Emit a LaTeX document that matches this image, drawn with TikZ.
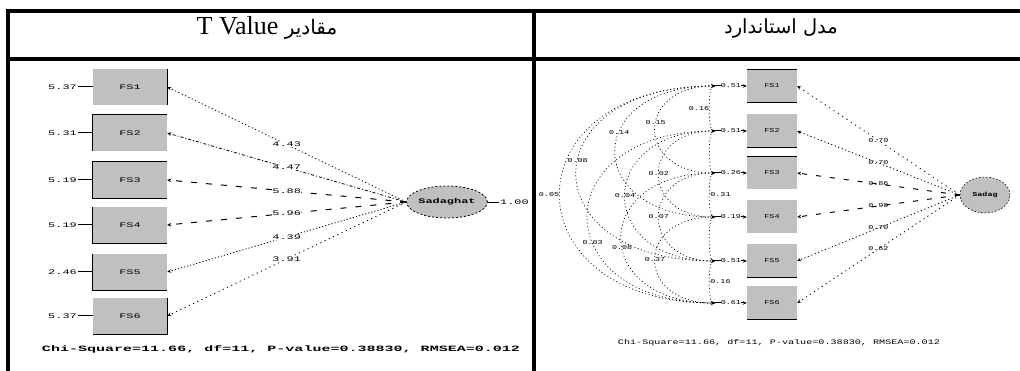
\documentclass[tikz,border=0pt]{standalone}
\usepackage{fontspec}
\usepackage{graphicx}
\setmainfont{Liberation Serif}
\newfontfamily\fa[Script=Arabic]{DejaVu Sans}
\newfontfamily\lis{Liberation Mono}
\usetikzlibrary{arrows.meta,shapes.geometric}
\TeXXeTstate=1
\definecolor{boxgray}{RGB}{192,192,192}
\newcommand\lsl[1]{\scalebox{1.7}[1]{#1}}
\newcommand\lsr[1]{\scalebox{1.4}[1]{#1}}
\begin{document}
\begin{tikzpicture}[x=1pt,y=-1pt,
  frame/.style={line width=3.5pt},
  obsL/.style={rectangle,fill=boxgray,minimum width=74pt,minimum height=36pt,inner sep=0pt,font=\lis\fontsize{7}{7}\selectfont},
  obsR/.style={rectangle,fill=boxgray,minimum width=50pt,minimum height=33pt,inner sep=0pt,font=\lis\fontsize{6}{6}\selectfont},
  latL/.style={ellipse,fill=boxgray,draw=black,line width=0.8pt,dash pattern=on 2pt off 2pt,minimum width=73pt,minimum height=32pt,inner sep=0pt,font=\lis\bfseries\fontsize{7}{7}\selectfont},
  latR/.style={ellipse,fill=boxgray,draw=black,line width=0.6pt,dash pattern=on 1.5pt off 2pt,minimum width=50pt,minimum height=36pt,inner sep=0pt,font=\lis\bfseries\fontsize{6}{6}\selectfont},
  bedge/.style={line width=1.3pt,black},
  labL/.style={font=\lis\fontsize{7}{7}\selectfont,inner sep=0.5pt,fill=white},
  labR/.style={font=\lis\fontsize{6}{6}\selectfont,inner sep=0.3pt},
  errL/.style={font=\lis\fontsize{7}{7}\selectfont,inner sep=1pt},
  tip/.style={-{Stealth[length=4pt,width=3.5pt]}},
  pth/.style={tip,line width=0.8pt},
  cov/.style={{Stealth[length=3.5pt,width=3pt]}-{Stealth[length=3.5pt,width=3pt]},line width=0.7pt,dash pattern=on 1pt off 2.5pt},
  ]
\useasboundingbox (0,0) rectangle (1020,371);

% ---------- table frame ----------
\draw[frame] (6,11) -- (1020,11);
\draw[frame] (6,59) -- (1020,59);
\draw[frame] (8,9.25) -- (8,371);
\draw[frame] (534,9.25) -- (534,371);

\node (hL) at (267,28) {\fontsize{26}{26}\selectfont T Value {\fa\fontsize{20}{20}\selectfont\beginR مقادیر\endR}};
\node (hR) at (781,28) {\fa\fontsize{19.5}{20}\selectfont\beginR مدل استاندارد\endR};

% ---------- left panel: T values ----------
\node[obsL] (L1) at (130,87) {\lsl{FS1}};
\node[obsL] (L2) at (130,133) {\lsl{FS2}};
\node[obsL] (L3) at (130,180) {\lsl{FS3}};
\node[obsL] (L4) at (130,225) {\lsl{FS4}};
\node[obsL] (L5) at (130,272) {\lsl{FS5}};
\node[obsL] (L6) at (130,316) {\lsl{FS6}};

\draw[bedge] (L1.north east) -- (L1.south east);
\draw[bedge] (L2.south west) -- (L2.north west) -- (L2.north east);
\draw[bedge] (L3.south east) -- (L3.south west) -- (L3.north west) -- (L3.north east);
\draw[bedge] (L4.north west) -- (L4.south west) -- (L4.south east);
\draw[bedge] (L5.north west) -- (L5.south west) -- (L5.south east);
\draw[bedge] (L6.south west) -- (L6.south east) -- (L6.north east);

\node[errL,anchor=east] (eL1) at (78,87) {\lsl{5.37}};
\node[errL,anchor=east] (eL2) at (78,133) {\lsl{5.31}};
\node[errL,anchor=east] (eL3) at (78,180) {\lsl{5.19}};
\node[errL,anchor=east] (eL4) at (78,225) {\lsl{5.19}};
\node[errL,anchor=east] (eL5) at (78,272) {\lsl{2.46}};
\node[errL,anchor=east] (eL6) at (78,316) {\lsl{5.37}};
\foreach \i in {1,...,6} \draw[line width=1pt] (eL\i.east) -- (L\i.west);

\node[latL] (LE) at (447,202) {\lsl{Sadaghat}};
\coordinate (Lv) at (499,202);
\draw[line width=0.6pt] (LE.east) -- (Lv);
\node[errL,anchor=west] (Lvl) at (Lv) {\lsl{1.00}};

\draw[pth,dash pattern=on 1.2pt off 2.5pt] (LE.west) -- node[labL]{\lsl{4.43}} (L1.east);
\draw[pth,dash pattern=on 3pt off 2pt on 1pt off 2pt] (LE.west) -- node[labL]{\lsl{4.47}} (L2.east);
\draw[pth,dash pattern=on 6pt off 9pt,line width=1pt] (LE.west) -- node[labL]{\lsl{5.88}} (L3.east);
\draw[pth,dash pattern=on 6pt off 9pt,line width=1pt] (LE.west) -- node[labL]{\lsl{5.96}} (L4.east);
\draw[pth,dash pattern=on 1.2pt off 2pt] (LE.west) -- node[labL]{\lsl{4.39}} (L5.east);
\draw[pth,dash pattern=on 1.2pt off 3.5pt] (LE.west) -- node[labL]{\lsl{3.91}} (L6.east);

\node[font=\lis\bfseries] (chiL) at (281,349) {\resizebox{478pt}{6pt}{Chi-Square=11.66, df=11, P-value=0.38830, RMSEA=0.012}};

% ---------- right panel: standardized ----------
\node[obsR] (R1) at (772,86) {\lsr{FS1}};
\node[obsR] (R2) at (772,131) {\lsr{FS2}};
\node[obsR] (R3) at (772,173) {\lsr{FS3}};
\node[obsR] (R4) at (772,217) {\lsr{FS4}};
\node[obsR] (R5) at (772,261) {\lsr{FS5}};
\node[obsR] (R6) at (772,303) {\lsr{FS6}};

\draw[bedge] (R1.north west) -- (R1.north east);
\draw[bedge] (R1.south west) -- (R1.south east);
\draw[bedge] (R2.south west) -- (R2.south east);
\draw[bedge] (R3.north west) -- (R3.north east);
\draw[bedge] (R5.south west) -- (R5.south east);
\draw[bedge] (R6.south west) -- (R6.south east);

\node[latR] (RE) at (985,195) {\lsr{Sadag}};

\draw[pth,dash pattern=on 1.2pt off 4pt] (RE.west) -- node[labR]{\lsr{0.70}} (R1.east);
\draw[pth,dash pattern=on 1.2pt off 2.5pt] (RE.west) -- node[labR]{\lsr{0.70}} (R2.east);
\draw[pth,dash pattern=on 5pt off 9pt,line width=1pt] (RE.west) -- node[labR]{\lsr{0.86}} (R3.east);
\draw[pth,dash pattern=on 5pt off 9pt,line width=1pt] (RE.west) -- node[labR]{\lsr{0.90}} (R4.east);
\draw[pth,dash pattern=on 1.2pt off 2.5pt] (RE.west) -- node[labR]{\lsr{0.70}} (R5.east);
\draw[pth,dash pattern=on 1.2pt off 3.5pt] (RE.west) -- node[labR]{\lsr{0.62}} (R6.east);

\coordinate (e1) at (715,86);
\coordinate (e2) at (715,131);
\coordinate (e3) at (715,173);
\coordinate (e4) at (715,217);
\coordinate (e5) at (715,261);
\coordinate (e6) at (715,303);

\draw[tip,line width=1pt] (e1) -- node[labR,fill=white]{\lsr{0.51}} (R1.west);
\draw[tip,line width=1pt] (e2) -- node[labR,fill=white]{\lsr{0.51}} (R2.west);
\draw[tip,line width=1pt] (e3) -- node[labR,fill=white]{\lsr{0.26}} (R3.west);
\draw[tip,line width=1pt] (e4) -- node[labR,fill=white]{\lsr{0.19}} (R4.west);
\draw[tip,line width=1pt] (e5) -- node[labR,fill=white]{\lsr{0.51}} (R5.west);
\draw[tip,line width=1pt] (e6) -- node[labR,fill=white]{\lsr{0.61}} (R6.west);

% error covariances
\draw[cov] (e1) .. controls +(-7,0) and +(-7,0) .. node[labR,left,pos=.5]{\lsr{0.16}} (e2);
\draw[cov] (e2) .. controls +(-7,0) and +(-7,0) .. (e3);
\draw[cov] (e3) .. controls +(-7,0) and +(-7,0) .. node[labR,right,pos=.5]{\lsr{0.31}} (e4);
\draw[cov] (e4) .. controls +(-7,0) and +(-7,0) .. (e5);
\draw[cov] (e5) .. controls +(-7,0) and +(-7,0) .. node[labR,right,pos=.5]{\lsr{0.16}} (e6);
\draw[cov] (e1) .. controls +(-80,0) and +(-80,0) .. node[labR,pos=.45]{\lsr{0.15}} (e3);
\draw[cov] (e2) .. controls +(-75,0) and +(-75,0) .. node[labR,pos=.5]{\lsr{0.02}} (e4);
\draw[cov] (e3) .. controls +(-75,0) and +(-75,0) .. node[labR,pos=.5]{\lsr{0.07}} (e5);
\draw[cov] (e4) .. controls +(-80,0) and +(-80,0) .. node[labR,pos=.5]{\lsr{0.37}} (e6);
\draw[cov] (e1) .. controls +(-133,0) and +(-133,0) .. node[labR,pos=.4]{\lsr{0.14}} (e4);
\draw[cov] (e2) .. controls +(-120,0) and +(-120,0) .. node[labR,pos=.5]{\lsr{0.04}} (e5);
\draw[cov] (e3) .. controls +(-125,0) and +(-125,0) .. node[labR,pos=.55]{\lsr{0.08}} (e6);
\draw[cov] (e1) .. controls +(-185,0) and +(-185,0) .. node[labR,pos=.45]{\lsr{0.08}} (e5);
\draw[cov] (e2) .. controls +(-170,0) and +(-170,0) .. node[labR,pos=.6]{\lsr{0.03}} (e6);
\draw[cov] (e1) .. controls +(-207,0) and +(-207,0) .. node[labR,pos=.5,left]{\lsr{0.05}} (e6);

\node[font=\lis] (chiR) at (779,343) {\resizebox{322pt}{5pt}{Chi-Square=11.66, df=11, P-value=0.38830, RMSEA=0.012}};
\end{tikzpicture}
\end{document}
